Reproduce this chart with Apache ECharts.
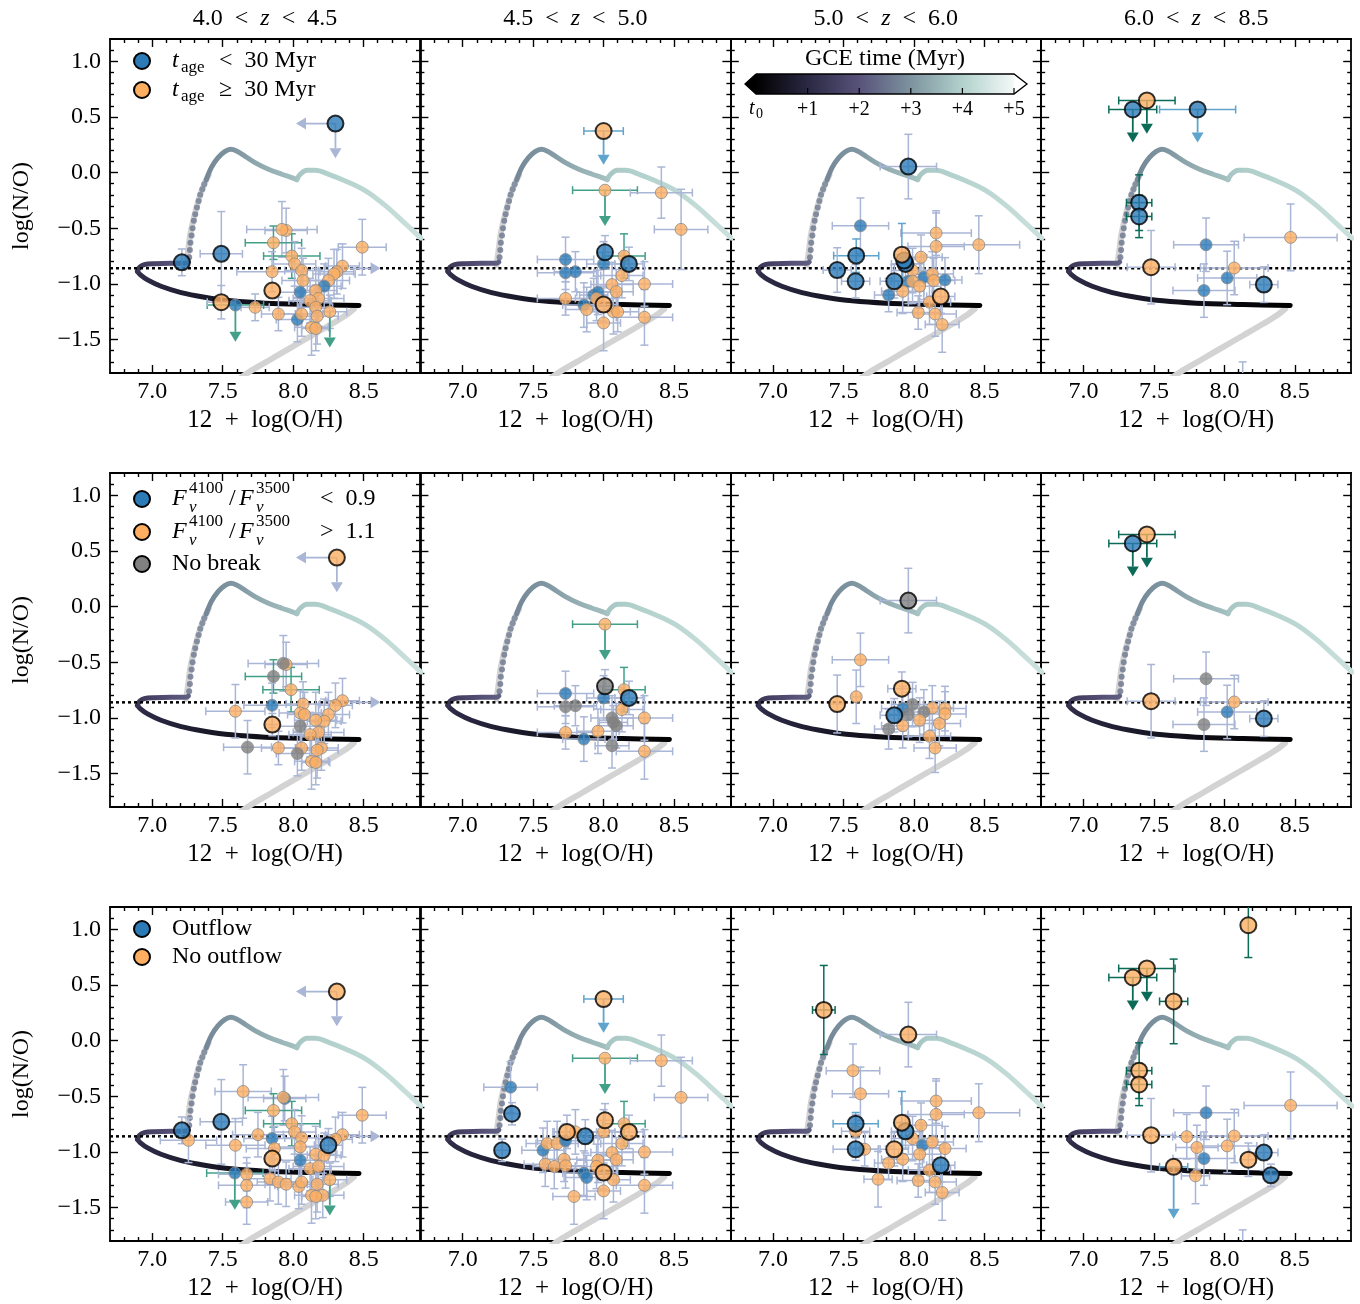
<!DOCTYPE html>
<html>
<head>
<meta charset="utf-8">
<title>N/O versus O/H by redshift bin</title>
<script src="https://cdn.jsdelivr.net/npm/echarts@6.0.0/dist/echarts.min.js"></script>
<style>
  html, body { margin: 0; padding: 0; background: #fff; }
  #chart { width: 1360px; height: 1304px; }
</style>
</head>
<body>
<div id="chart"></div>
<script>
// axis ranges and ticks
const X_MIN = 6.7, X_MAX = 8.9, Y_MIN = -1.8, Y_MAX = 1.2;
const X_MAJOR = [7.0, 7.5, 8.0, 8.5];
const Y_MAJOR = [-1.5, -1.0, -0.5, 0.0, 0.5, 1.0];
const SOLAR_NO = -0.86;

const COL_TITLES = [["4.0", "4.5"], ["4.5", "5.0"], ["5.0", "6.0"], ["6.0", "8.5"]];
const CBAR_LABELS = ["+1", "+2", "+3", "+4", "+5"];

// GCE track: [12+log(O/H), log(N/O), time in Myr after t0]
const TRACK_BOTTOM = [
  [8.467, -1.194, 0.0], [8.133, -1.185, 0.15], [7.800, -1.173, 0.35], [7.562, -1.152, 0.5],
  [7.371, -1.119, 0.65], [7.205, -1.078, 0.8], [7.062, -1.021, 0.95], [6.967, -0.964, 1.05],
  [6.914, -0.916, 1.15], [6.895, -0.887, 1.2]
];
const TRACK_TURN = [
  [6.895, -0.887, 1.2], [6.910, -0.851, 1.3], [6.943, -0.827, 1.45], [7.014, -0.818, 1.65],
  [7.133, -0.815, 1.95], [7.240, -0.815, 2.2], [7.257, -0.803, 2.3]
];
const TRACK_DOTS = [
  [7.262, -0.761, 2.5], [7.267, -0.696, 2.52], [7.271, -0.630, 2.54], [7.279, -0.564, 2.56],
  [7.286, -0.499, 2.58], [7.295, -0.433, 2.6], [7.305, -0.373, 2.62], [7.317, -0.313, 2.64],
  [7.329, -0.254, 2.66], [7.340, -0.200, 2.69], [7.355, -0.149, 2.72], [7.369, -0.104, 2.75]
];
const TRACK_PEAK = [
  [7.383, -0.066, 2.8], [7.419, 0.045, 2.85], [7.467, 0.134, 2.9], [7.514, 0.188, 2.95],
  [7.557, 0.209, 3.0], [7.598, 0.194, 3.05], [7.657, 0.149, 3.15], [7.729, 0.090, 3.3],
  [7.824, 0.030, 3.45], [7.919, -0.015, 3.6], [7.990, -0.045, 3.7], [8.026, -0.063, 3.75]
];
const TRACK_TAIL = [
  [8.026, -0.063, 3.75], [8.050, -0.015, 3.8], [8.098, 0.021, 3.87], [8.157, 0.021, 3.93],
  [8.252, -0.015, 4.0], [8.371, -0.075, 4.08], [8.514, -0.164, 4.16], [8.657, -0.299, 4.24],
  [8.800, -0.463, 4.32], [8.907, -0.588, 4.4]
];
const GRAY_LOWER = [
  [7.62, -1.85], [7.705, -1.776], [7.848, -1.672], [7.99, -1.567], [8.133, -1.463],
  [8.276, -1.358], [8.371, -1.284], [8.431, -1.224]
];
const GRAY_UNDER = [
  [7.24, -0.83], [7.255, -0.70], [7.27, -0.55], [7.30, -0.38], [7.335, -0.22], [7.37, -0.10], [7.40, -0.02]
];

// galaxies: [x, y, xerr, yerr, class, error style]
// class: b = blue group, o = orange group, n = no break; error style: g / dg / lb (default steel)
const r1c1Small = [
  [7.95, -0.52, 0.15, 0.20, "o"], [7.92, -0.51, 0.25, 0.25, "o"], [7.86, -0.63, 0.20, 0.15, "o", "g"],
  [8.49, -0.67, 0.17, 0.25, "o"], [7.99, -0.75, 0.20, 0.20, "o", "g"], [8.01, -0.82, 0.15, 0.20, "o"],
  [8.06, -0.88, 0.12, 0.20, "o"], [7.85, -0.89, 0.25, 0.18, "o"], [8.07, -0.97, 0.15, 0.20, "o"],
  [8.35, -0.84, 0.12, 0.20, "o"], [8.31, -0.89, 0.12, 0.20, "o"], [8.29, -0.91, 0.15, 0.22, "o"],
  [8.25, -0.97, 0.15, 0.20, "o"], [8.05, -1.075, 0.15, 0.20, "b"], [8.22, -1.02, 0.12, 0.20, "b"],
  [8.16, -1.06, 0.15, 0.20, "o"], [8.18, -1.13, 0.18, 0.25, "o"], [8.12, -1.15, 0.15, 0.20, "o"],
  [8.16, -1.21, 0.12, 0.20, "o"], [8.26, -1.25, 0.12, 0.15, "o"], [8.03, -1.32, 0.15, 0.20, "b"],
  [8.06, -1.27, 0.15, 0.20, "o"], [8.17, -1.29, 0.15, 0.25, "o"], [8.13, -1.39, 0.12, 0.25, "o"],
  [8.16, -1.40, 0.10, 0.20, "o"], [7.895, -1.27, 0.12, 0.15, "o"], [7.73, -1.21, 0.10, 0.12, "o"],
  [7.59, -1.19, 0.20, 0, "b", "g"]
];
const r1c1Big = [
  [7.21, -0.806, 0, 0.12, "b"], [7.49, -0.73, 0.15, 0.38, "b"], [7.49, -1.164, 0.10, 0.15, "o"],
  [7.852, -1.06, 0, 0, "o"], [8.30, 0.44, 0, 0, "b"]
];
const r1c1Lim = [
  [8.30, 0.44, 8.02, 0.44, "s"], [8.30, 0.44, 8.30, 0.13, "s"], [7.59, -1.19, 7.59, -1.52, "g"],
  [8.26, -1.25, 8.26, -1.57, "g"], [8.40, -0.86, 8.62, -0.86, "s"]
];

const r1c2Small = [
  [8.01, -0.158, 0.23, 0, "o", "g"], [8.41, -0.18, 0.22, 0.23, "o"], [8.55, -0.51, 0.19, 0.36, "o"],
  [7.73, -0.78, 0.20, 0.20, "b"], [7.73, -0.90, 0.20, 0.15, "b"], [7.80, -0.89, 0.15, 0.18, "b"],
  [8.145, -0.75, 0.15, 0.20, "o", "g"], [8.00, -0.82, 0.12, 0.20, "b"], [8.13, -0.925, 0.15, 0.20, "o"],
  [8.06, -1.006, 0.15, 0.20, "o"], [8.29, -1.00, 0.20, 0.20, "o"], [7.93, -1.10, 0.10, 0.15, "b"],
  [7.96, -1.075, 0.15, 0.20, "b"], [8.09, -1.07, 0.12, 0.20, "o"], [7.73, -1.13, 0.20, 0.15, "o"],
  [7.95, -1.13, 0.15, 0.20, "o"], [7.86, -1.19, 0.15, 0.20, "b"], [7.88, -1.23, 0.15, 0.20, "o"],
  [8.07, -1.25, 0.12, 0.20, "o"], [8.10, -1.25, 0.15, 0.18, "o"], [8.00, -1.35, 0.12, 0.25, "o"],
  [8.29, -1.30, 0.20, 0.25, "o"]
];
const r1c2Big = [
  [8.00, 0.373, 0.14, 0, "o", "lb"], [8.01, -0.716, 0.05, 0.15, "b"], [8.18, -0.82, 0.10, 0.15, "b"],
  [8.00, -1.185, 0.10, 0.15, "o"]
];
const r1c2Lim = [[8.00, 0.373, 8.00, 0.07, "lb"], [8.01, -0.158, 8.01, -0.48, "g"]];

const r1c3Small = [
  [7.62, -0.478, 0.20, 0.25, "b"], [8.157, -0.543, 0.25, 0.20, "o"], [8.157, -0.663, 0.20, 0.30, "o"],
  [8.46, -0.648, 0.29, 0.26, "o"], [8.05, -0.76, 0.15, 0.20, "o"], [7.99, -0.88, 0.15, 0.20, "o"],
  [8.07, -0.94, 0.15, 0.20, "b"], [8.13, -0.91, 0.15, 0.20, "o"], [8.14, -0.97, 0.15, 0.20, "o"],
  [8.22, -0.964, 0.12, 0.20, "b"], [7.96, -0.976, 0.12, 0.20, "b"], [7.99, -0.976, 0.15, 0.20, "o"],
  [8.04, -1.02, 0.15, 0.20, "o"], [7.92, -1.066, 0.15, 0.20, "o"], [7.82, -1.10, 0.10, 0.15, "b"],
  [8.11, -1.164, 0.15, 0.20, "o"], [8.15, -1.27, 0.15, 0.20, "o"], [8.03, -1.257, 0.15, 0.15, "o"],
  [8.20, -1.364, 0.12, 0.25, "o"]
];
const r1c3Big = [
  [7.96, 0.054, 0.20, 0.29, "b"], [7.59, -0.746, 0.16, 0.15, "b", "lb"], [7.455, -0.875, 0.10, 0.20, "b"],
  [7.586, -0.976, 0.10, 0.15, "b"], [7.86, -0.976, 0.10, 0.15, "b"], [7.94, -0.82, 0.10, 0.15, "b"],
  [7.93, -0.79, 0, 0, "b"], [7.914, -0.737, 0.05, 0.28, "o", "lb"], [8.19, -1.113, 0.10, 0.15, "o"]
];
const r1c3Lim = [];

const r1c4Small = [
  [7.87, -0.648, 0.23, 0.24, "b"], [8.47, -0.582, 0.33, 0.30, "o"], [8.07, -0.857, 0.24, 0.24, "o"],
  [8.02, -0.946, 0.21, 0.24, "b"], [7.855, -1.06, 0.22, 0.24, "b"], [8.13, -2.05, 0, 0.35, "o"]
];
const r1c4Big = [
  [7.35, 0.567, 0.17, 0, "b", "dg"], [7.45, 0.648, 0.20, 0, "o", "dg"], [7.81, 0.567, 0.27, 0, "b", "lb"],
  [7.395, -0.27, 0.09, 0.25, "b", "dg"], [7.395, -0.394, 0.09, 0.19, "b", "dg"],
  [7.48, -0.85, 0.17, 0.33, "o"], [8.28, -1.006, 0.10, 0.16, "b"]
];
const r1c4Lim = [[7.35, 0.567, 7.35, 0.27, "dg"], [7.45, 0.648, 7.45, 0.35, "dg"], [7.81, 0.567, 7.81, 0.27, "lb"]];

const r2c1Small = [
  [7.95, -0.52, 0.15, 0.20, "o"], [7.93, -0.51, 0.25, 0.25, "n"], [7.86, -0.627, 0.20, 0.15, "n", "g"],
  [7.985, -0.746, 0.20, 0.20, "o", "g"], [7.85, -0.887, 0.20, 0.20, "b"], [7.59, -0.94, 0.21, 0.24, "o"],
  [8.07, -0.875, 0.12, 0.20, "o"], [8.05, -0.955, 0.15, 0.20, "o"], [8.08, -0.97, 0.12, 0.20, "o"],
  [8.35, -0.845, 0.12, 0.20, "o"], [8.30, -0.887, 0.12, 0.20, "o"], [8.25, -0.97, 0.15, 0.20, "o"],
  [8.22, -1.03, 0.12, 0.20, "o"], [8.16, -1.02, 0.15, 0.25, "o"], [8.05, -1.075, 0.15, 0.20, "n"],
  [8.18, -1.13, 0.18, 0.25, "o"], [8.12, -1.15, 0.15, 0.20, "o"], [7.676, -1.263, 0.17, 0.24, "n"],
  [7.895, -1.27, 0.12, 0.15, "o"], [8.06, -1.27, 0.15, 0.20, "o"], [8.20, -1.27, 0.12, 0.20, "o"],
  [8.17, -1.29, 0.15, 0.25, "o"], [8.03, -1.32, 0.15, 0.20, "n"], [8.13, -1.39, 0.12, 0.25, "o"],
  [8.16, -1.40, 0.10, 0.20, "o"]
];
const r2c1Big = [[8.31, 0.44, 0, 0, "o"], [7.852, -1.06, 0.05, 0.10, "o"]];
const r2c1Lim = [[8.31, 0.44, 8.02, 0.44, "s"], [8.31, 0.44, 8.31, 0.13, "s"], [8.40, -0.86, 8.62, -0.86, "s"]];

const r2c2Small = [
  [8.01, -0.158, 0.23, 0, "o", "g"], [8.145, -0.746, 0.15, 0.20, "o", "g"], [8.00, -0.82, 0.12, 0.20, "b"],
  [7.73, -0.78, 0.20, 0.20, "b"], [7.73, -0.90, 0.20, 0.15, "n"], [7.80, -0.89, 0.15, 0.18, "n"],
  [8.13, -0.925, 0.15, 0.20, "o"], [8.29, -1.00, 0.20, 0.20, "o"], [8.06, -1.00, 0.15, 0.20, "n"],
  [8.07, -1.04, 0.10, 0.15, "n"], [8.09, -1.07, 0.12, 0.20, "n"], [7.73, -1.13, 0.20, 0.15, "o"],
  [7.96, -1.12, 0.15, 0.20, "o"], [7.86, -1.19, 0.15, 0.20, "b"], [8.06, -1.25, 0.12, 0.20, "n"],
  [8.29, -1.30, 0.20, 0.25, "o"]
];
const r2c2Big = [[8.01, -0.716, 0.05, 0.15, "n"], [8.18, -0.82, 0.10, 0.15, "b"]];
const r2c2Lim = [[8.01, -0.158, 8.01, -0.48, "g"]];

const r2c3Small = [
  [7.62, -0.478, 0.20, 0.24, "o"], [7.59, -0.81, 0.03, 0.24, "o"], [7.99, -0.88, 0.15, 0.20, "n"],
  [7.92, -0.916, 0.15, 0.20, "b"], [8.13, -0.91, 0.15, 0.20, "o"], [8.22, -0.916, 0.15, 0.20, "o"],
  [8.22, -0.964, 0.15, 0.20, "o"], [8.07, -0.946, 0.15, 0.20, "n"], [7.96, -0.97, 0.15, 0.20, "n"],
  [8.04, -1.02, 0.15, 0.20, "o"], [8.18, -1.05, 0.15, 0.20, "o"], [7.92, -1.07, 0.15, 0.20, "o"],
  [7.82, -1.10, 0.10, 0.18, "n"], [8.11, -1.164, 0.15, 0.20, "o"], [8.15, -1.27, 0.15, 0.22, "o"]
];
const r2c3Big = [
  [7.96, 0.054, 0.20, 0.29, "n"], [7.914, -0.737, 0.10, 0.15, "o"], [7.455, -0.875, 0.05, 0.26, "o"],
  [7.86, -0.976, 0.10, 0.15, "b"]
];
const r2c3Lim = [];

const r2c4Small = [
  [7.87, -0.648, 0.23, 0.24, "n"], [8.07, -0.857, 0.24, 0.24, "o"], [8.02, -0.946, 0.21, 0.24, "b"],
  [7.855, -1.06, 0.22, 0.24, "n"]
];
const r2c4Big = [
  [7.35, 0.567, 0.17, 0, "b", "dg"], [7.45, 0.648, 0.20, 0, "o", "dg"], [7.48, -0.85, 0.17, 0.33, "o"],
  [8.28, -1.006, 0.10, 0.16, "b"]
];
const r2c4Lim = [[7.35, 0.567, 7.35, 0.27, "dg"], [7.45, 0.648, 7.45, 0.35, "dg"]];

const r3c1Small = [
  [7.257, -0.896, 0.20, 0.20, "o"], [7.645, -0.457, 0.20, 0.24, "o"], [7.94, -0.52, 0.15, 0.20, "b"],
  [7.93, -0.51, 0.25, 0.25, "o"], [7.86, -0.627, 0.20, 0.15, "o", "g"], [7.99, -0.746, 0.20, 0.20, "o", "g"],
  [8.49, -0.67, 0.17, 0.25, "o"], [7.75, -0.845, 0.18, 0.20, "o"], [7.85, -0.88, 0.20, 0.20, "b"],
  [7.59, -0.94, 0.21, 0.24, "o"], [8.01, -0.82, 0.15, 0.20, "o"], [8.06, -0.875, 0.12, 0.20, "o"],
  [8.05, -0.955, 0.15, 0.20, "o"], [7.867, -0.97, 0.20, 0.20, "o"], [8.35, -0.845, 0.12, 0.20, "o"],
  [8.30, -0.887, 0.12, 0.20, "o"], [8.16, -1.02, 0.15, 0.25, "o"], [8.22, -1.03, 0.12, 0.20, "o"],
  [8.05, -1.075, 0.15, 0.20, "b"], [8.12, -1.15, 0.15, 0.20, "o"], [8.18, -1.13, 0.18, 0.25, "o"],
  [7.586, -1.19, 0.20, 0, "b", "g"], [7.67, -1.20, 0.20, 0.15, "o"], [7.67, -1.30, 0.20, 0.20, "o"],
  [7.67, -1.45, 0.15, 0.20, "o"], [7.835, -1.24, 0.15, 0.20, "o"], [7.895, -1.27, 0.15, 0.20, "o"],
  [7.95, -1.29, 0.15, 0.20, "o"], [8.04, -1.31, 0.15, 0.20, "o"], [8.06, -1.27, 0.15, 0.20, "o"],
  [8.26, -1.25, 0.12, 0.15, "o"], [8.17, -1.29, 0.15, 0.25, "o"], [8.13, -1.39, 0.12, 0.25, "o"],
  [8.21, -1.39, 0.15, 0.20, "o"], [8.16, -1.40, 0.10, 0.20, "o"]
];
const r3c1Big = [
  [7.21, -0.806, 0, 0.12, "b"], [7.49, -0.73, 0.15, 0.38, "b"], [7.852, -1.06, 0.05, 0.10, "o"],
  [8.25, -0.94, 0.10, 0.15, "b"], [8.31, 0.44, 0, 0, "o"]
];
const r3c1Lim = [
  [8.31, 0.44, 8.02, 0.44, "s"], [8.31, 0.44, 8.31, 0.13, "s"], [7.586, -1.19, 7.586, -1.52, "g"],
  [8.26, -1.25, 8.26, -1.57, "g"], [8.40, -0.86, 8.62, -0.86, "s"]
];

const r3c2Small = [
  [7.34, -0.418, 0.19, 0.23, "b"], [8.01, -0.158, 0.23, 0, "o", "g"], [8.41, -0.18, 0.22, 0.23, "o"],
  [8.55, -0.51, 0.19, 0.36, "o"], [7.80, -0.82, 0.15, 0.20, "o"], [8.145, -0.746, 0.15, 0.20, "o", "g"],
  [8.00, -0.82, 0.12, 0.20, "o"], [7.57, -0.985, 0.15, 0.20, "b"], [7.60, -0.925, 0.15, 0.20, "o"],
  [7.67, -0.925, 0.15, 0.20, "o"], [7.73, -0.90, 0.20, 0.15, "b"], [8.13, -0.925, 0.15, 0.20, "o"],
  [8.06, -1.006, 0.15, 0.20, "o"], [8.29, -1.00, 0.20, 0.20, "o"], [7.72, -1.066, 0.15, 0.20, "o"],
  [8.09, -1.07, 0.12, 0.20, "o"], [7.96, -1.075, 0.15, 0.20, "o"], [7.586, -1.11, 0.15, 0.20, "o"],
  [7.65, -1.13, 0.15, 0.20, "o"], [7.73, -1.125, 0.15, 0.20, "o"], [7.95, -1.13, 0.15, 0.20, "o"],
  [7.86, -1.19, 0.15, 0.20, "b"], [7.88, -1.23, 0.15, 0.20, "b"], [8.07, -1.25, 0.12, 0.20, "o"],
  [8.00, -1.35, 0.12, 0.25, "o"], [8.29, -1.30, 0.20, 0.25, "o"], [7.79, -1.40, 0.15, 0.25, "o"]
];
const r3c2Big = [
  [8.00, 0.373, 0.14, 0, "o", "lb"], [7.35, -0.657, 0.05, 0.10, "b"], [7.28, -0.985, 0.05, 0.10, "b"],
  [7.74, -0.82, 0.10, 0.15, "o"], [7.87, -0.86, 0.10, 0.15, "b"], [8.01, -0.716, 0.05, 0.15, "o"],
  [8.18, -0.82, 0.10, 0.15, "o"], [8.00, -1.185, 0.10, 0.15, "o"]
];
const r3c2Lim = [[8.00, 0.373, 8.00, 0.07, "lb"], [8.01, -0.158, 8.01, -0.48, "g"]];

const r3c3Small = [
  [7.567, -0.27, 0.19, 0.24, "o"], [7.62, -0.478, 0.20, 0.24, "o"], [8.157, -0.543, 0.25, 0.20, "o"],
  [8.157, -0.663, 0.20, 0.30, "o"], [8.46, -0.648, 0.29, 0.26, "o"], [8.05, -0.76, 0.15, 0.20, "o"],
  [7.586, -0.815, 0.10, 0.15, "o"], [7.99, -0.88, 0.15, 0.20, "o"], [8.06, -0.94, 0.15, 0.20, "b"],
  [8.13, -0.91, 0.15, 0.20, "o"], [8.22, -0.97, 0.15, 0.20, "o"], [7.65, -0.976, 0.10, 0.15, "o"],
  [8.04, -1.02, 0.15, 0.20, "o"], [7.92, -1.066, 0.15, 0.20, "o"], [7.82, -1.10, 0.10, 0.15, "o"],
  [8.11, -1.164, 0.15, 0.20, "o"], [7.745, -1.245, 0.10, 0.25, "o"], [8.15, -1.27, 0.15, 0.20, "o"],
  [8.03, -1.257, 0.15, 0.15, "o"], [8.20, -1.364, 0.12, 0.25, "o"]
];
const r3c3Big = [
  [7.36, 0.275, 0.08, 0.40, "o", "dg"], [7.96, 0.054, 0.20, 0.29, "o"], [7.586, -0.746, 0.16, 0.10, "b", "lb"],
  [7.586, -0.976, 0.16, 0.10, "b"], [7.94, -0.815, 0.10, 0.15, "b"], [7.914, -0.737, 0.05, 0.28, "o", "lb"],
  [7.86, -0.976, 0.10, 0.15, "o"], [8.19, -1.12, 0.10, 0.15, "b"]
];
const r3c3Lim = [];

const r3c4Small = [
  [7.87, -0.648, 0.23, 0.24, "b"], [8.47, -0.582, 0.33, 0.30, "o"], [7.733, -0.863, 0.10, 0.20, "o"],
  [8.07, -0.857, 0.24, 0.24, "o"], [7.805, -0.96, 0.15, 0.20, "o"], [8.02, -0.946, 0.21, 0.24, "o"],
  [7.855, -1.06, 0.22, 0.24, "b"], [7.795, -1.215, 0.10, 0.25, "o"], [8.13, -2.05, 0, 0.35, "o"]
];
const r3c4Big = [
  [8.17, 1.036, 0, 0.29, "o", "dg"], [7.35, 0.567, 0.17, 0, "o", "dg"], [7.45, 0.648, 0.20, 0, "o", "dg"],
  [7.64, 0.352, 0.10, 0.38, "o", "dg"], [7.395, -0.27, 0.09, 0.25, "o", "dg"],
  [7.395, -0.394, 0.09, 0.19, "o", "dg"], [7.48, -0.85, 0.17, 0.33, "o"], [7.64, -1.134, 0.10, 0, "o", "lb"],
  [8.17, -1.07, 0.05, 0.15, "o"], [8.28, -1.006, 0.10, 0.16, "b"], [8.33, -1.21, 0.05, 0.10, "b"]
];
const r3c4Lim = [[7.35, 0.567, 7.35, 0.27, "dg"], [7.45, 0.648, 7.45, 0.35, "dg"], [7.64, -1.134, 7.64, -1.60, "lb"]];

const PANELS = [
  [r1c1Small, r1c1Big, r1c1Lim], [r1c2Small, r1c2Big, r1c2Lim], [r1c3Small, r1c3Big, r1c3Lim], [r1c4Small, r1c4Big, r1c4Lim],
  [r2c1Small, r2c1Big, r2c1Lim], [r2c2Small, r2c2Big, r2c2Lim], [r2c3Small, r2c3Big, r2c3Lim], [r2c4Small, r2c4Big, r2c4Lim],
  [r3c1Small, r3c1Big, r3c1Lim], [r3c2Small, r3c2Big, r3c2Lim], [r3c3Small, r3c3Big, r3c3Lim], [r3c4Small, r3c4Big, r3c4Lim]
];

// styling
const FONT = "'Liberation Serif', 'DejaVu Serif', serif";
const COLORS = { b: "#2c7bb6", o: "#fdae61", n: "#808080" };
const ERR_COLORS = { s: "#aab6d6", g: "#42a088", dg: "#0c6b57", lb: "#5fa4cc" };
const CMAP = ["#000000", "#2a2842", "#58527a", "#7d939f", "#b2d1cc", "#f3f9f7"];
const GRID_LEFT = 110, GRID_TOP = 39, GRID_W = 310, GRID_H = 334, COL_STEP = 310.4, ROW_STEP = 434;

function hexToRgb(h) {
  return [1, 3, 5].map((i) => parseInt(h.slice(i, i + 2), 16));
}

function cmapAt(t) {
  const s = Math.max(0, Math.min(5, t));
  const i = Math.min(4, Math.floor(s));
  const f = s - i;
  const a = hexToRgb(CMAP[i]);
  const b = hexToRgb(CMAP[i + 1]);
  const c = a.map((v, k) => Math.round(v + (b[k] - v) * f));
  return `rgb(${c.join(",")})`;
}

function gradientFor(seg) {
  const xs = seg.map((q) => q[0]);
  const lo = Math.min(...xs), hi = Math.max(...xs);
  const stops = seg
    .map((q) => ({ offset: (q[0] - lo) / (hi - lo), color: cmapAt(q[2]) }))
    .sort((a, b) => a.offset - b.offset);
  return { type: "linear", x: 0, y: 0, x2: 1, y2: 0, colorStops: stops };
}

function minorTicks(lo, hi, majors) {
  const out = [];
  for (let k = Math.round(lo * 10) + 1; k < Math.round(hi * 10); k++) {
    const v = k / 10;
    if (!majors.some((m) => Math.abs(m - v) < 1e-6)) out.push(v);
  }
  return out;
}
const X_MINOR = minorTicks(X_MIN, X_MAX, X_MAJOR);
const Y_MINOR = minorTicks(Y_MIN, Y_MAX, Y_MAJOR);

function fmt(v) {
  return (v < 0 ? "\u2212" : "") + Math.abs(v).toFixed(1);
}

const grids = [], xAxes = [], yAxes = [], series = [], graphics = [];

function axisDef(kind, gi, pos, ticks, len, labels, line, name) {
  const isX = kind === "x";
  const def = {
    type: "value", gridIndex: gi, position: pos,
    min: isX ? X_MIN : Y_MIN, max: isX ? X_MAX : Y_MAX,
    axisLine: { show: line, onZero: false, lineStyle: { color: "#000", width: 1.8 } },
    axisTick: { show: true, inside: true, length: len, customValues: ticks, lineStyle: { color: "#000", width: 1.4 } },
    axisLabel: {
      show: labels, customValues: ticks, margin: isX ? 7 : 9, color: "#000",
      fontFamily: FONT, fontSize: 24, formatter: fmt
    },
    splitLine: { show: false }
  };
  if (name) {
    def.name = name;
    def.nameLocation = "middle";
    def.nameTextStyle = { fontFamily: FONT, fontSize: isX ? 25 : 24, color: "#000" };
    def.nameGap = isX ? 35 : 76;
  }
  return def;
}

function errRender(list) {
  return function (params, api) {
    const d = list[params.dataIndex];
    const color = ERR_COLORS[d[5] || "s"];
    const style = { stroke: color, lineWidth: 1.5, fill: null };
    const kids = [];
    const seg = (x1, y1, x2, y2) => kids.push({ type: "line", shape: { x1, y1, x2, y2 }, style });
    if (d[2] > 0) {
      const a = api.coord([d[0] - d[2], d[1]]), b = api.coord([d[0] + d[2], d[1]]);
      seg(a[0], a[1], b[0], b[1]);
      seg(a[0], a[1] - 4, a[0], a[1] + 4);
      seg(b[0], b[1] - 4, b[0], b[1] + 4);
    }
    if (d[3] > 0) {
      const a = api.coord([d[0], d[1] - d[3]]), b = api.coord([d[0], d[1] + d[3]]);
      seg(a[0], a[1], b[0], b[1]);
      seg(a[0] - 4, a[1], a[0] + 4, a[1]);
      seg(b[0] - 4, b[1], b[0] + 4, b[1]);
    }
    return { type: "group", children: kids };
  };
}

function arrowRender(list) {
  return function (params, api) {
    const d = list[params.dataIndex];
    const color = ERR_COLORS[d[4] || "s"];
    const p0 = api.coord([d[0], d[1]]), p1 = api.coord([d[2], d[3]]);
    const dx = p1[0] - p0[0], dy = p1[1] - p0[1];
    const L = Math.hypot(dx, dy) || 1;
    const ux = dx / L, uy = dy / L;
    const head = 10, hw = 6;
    const bx = p1[0] - ux * head, by = p1[1] - uy * head;
    return {
      type: "group",
      children: [
        { type: "line", shape: { x1: p0[0], y1: p0[1], x2: bx, y2: by }, style: { stroke: color, lineWidth: 1.8 } },
        {
          type: "polygon",
          shape: { points: [[p1[0], p1[1]], [bx - uy * hw, by + ux * hw], [bx + uy * hw, by - ux * hw]] },
          style: { fill: color }
        }
      ]
    };
  };
}

function pointItems(list, big) {
  return list.map((d) => ({
    value: [d[0], d[1]],
    itemStyle: {
      color: COLORS[d[4]],
      borderColor: big ? "#000" : "#8a8a8a",
      borderWidth: big ? 2 : 1
    }
  }));
}

PANELS.forEach((panel, gi) => {
  const r = Math.floor(gi / 4), c = gi % 4;
  grids.push({ left: GRID_LEFT + COL_STEP * c, top: GRID_TOP + ROW_STEP * r, width: GRID_W, height: GRID_H });

  const xi = xAxes.length, yi = yAxes.length;
  xAxes.push(axisDef("x", gi, "bottom", X_MAJOR, 8, true, true, "12  +  log(O/H)"));
  xAxes.push(axisDef("x", gi, "bottom", X_MINOR, 4, false, false));
  xAxes.push(axisDef("x", gi, "top", X_MAJOR, 8, false, true));
  xAxes.push(axisDef("x", gi, "top", X_MINOR, 4, false, false));
  yAxes.push(axisDef("y", gi, "left", Y_MAJOR, 8, c === 0, true, c === 0 ? "log(N/O)" : null));
  yAxes.push(axisDef("y", gi, "left", Y_MINOR, 4, false, false));
  yAxes.push(axisDef("y", gi, "right", Y_MAJOR, 8, false, true));
  yAxes.push(axisDef("y", gi, "right", Y_MINOR, 4, false, false));

  const base = { xAxisIndex: xi, yAxisIndex: yi, silent: true };

  [GRAY_LOWER, GRAY_UNDER].forEach((g) => {
    series.push(Object.assign({}, base, {
      type: "line", data: g, showSymbol: false, symbol: "none", smooth: 0.3, clip: true, z: 1,
      lineStyle: { color: "#d3d3d3", width: 6, cap: "round" }
    }));
  });
  [TRACK_BOTTOM, TRACK_TURN, TRACK_PEAK, TRACK_TAIL].forEach((seg) => {
    series.push(Object.assign({}, base, {
      type: "line", data: seg.map((q) => [q[0], q[1]]), showSymbol: false, symbol: "none",
      smooth: 0.35, clip: true, z: 2,
      lineStyle: { width: 5, cap: "round", join: "round", color: gradientFor(seg) }
    }));
  });
  series.push(Object.assign({}, base, {
    type: "scatter", symbolSize: 6, z: 2,
    data: TRACK_DOTS.map((q) => ({ value: [q[0], q[1]], itemStyle: { color: cmapAt(q[2]) } }))
  }));
  series.push(Object.assign({}, base, {
    type: "line", data: [[X_MIN, SOLAR_NO], [X_MAX, SOLAR_NO]], showSymbol: false, symbol: "none", z: 3,
    lineStyle: { color: "#000", width: 2.5, type: [3, 3] }
  }));

  const [small, big, lim] = panel;
  const all = small.concat(big);
  series.push(Object.assign({}, base, {
    type: "custom", renderItem: errRender(all), data: all.map((d) => [d[0], d[1]]),
    encode: { x: 0, y: 1 }, clip: true, z: 4
  }));
  series.push(Object.assign({}, base, {
    type: "custom", renderItem: arrowRender(lim), data: lim.map((d) => [d[0], d[1]]),
    encode: { x: 0, y: 1 }, clip: true, z: 4
  }));
  series.push(Object.assign({}, base, { type: "scatter", symbolSize: 12, z: 5, data: pointItems(small, false) }));
  series.push(Object.assign({}, base, { type: "scatter", symbolSize: 16, z: 6, data: pointItems(big, true) }));
});

// text helpers
function txt(x, y, text, size, extra) {
  const st = Object.assign({
    x, y, text, fill: "#000", fontFamily: FONT, fontSize: size,
    align: "left", verticalAlign: "middle", textAlign: "left", textVerticalAlign: "middle"
  }, extra || {});
  if (extra && extra.align) st.textAlign = extra.align;
  graphics.push({ type: "text", silent: true, z: 100, style: st });
}
function dot(x, y, color) {
  graphics.push({
    type: "circle", silent: true, z: 100, shape: { cx: x, cy: y, r: 8 },
    style: { fill: color, stroke: "#000", lineWidth: 2 }
  });
}

// column titles
COL_TITLES.forEach((t, c) => {
  const cx = GRID_LEFT + COL_STEP * c + GRID_W / 2;
  graphics.push({
    type: "text", silent: true, z: 100,
    style: {
      x: cx, y: 19, align: "center", verticalAlign: "middle", textAlign: "center", textVerticalAlign: "middle",
      text: `{a|${t[0]}  <  }{b|z}{a|  <  ${t[1]}}`,
      rich: {
        a: { fontFamily: FONT, fontSize: 24, fill: "#000" },
        b: { fontFamily: FONT, fontSize: 24, fontStyle: "italic", fill: "#000" }
      }
    }
  });
});

// legend, row 1
dot(142, 61, COLORS.b);
txt(172, 61, "t", 24, { fontStyle: "italic" });
txt(181, 68, "age", 17);
txt(219, 61, "<  30 Myr", 24);
dot(142, 90, COLORS.o);
txt(172, 90, "t", 24, { fontStyle: "italic" });
txt(181, 97, "age", 17);
txt(219, 90, "\u2265  30 Myr", 24);

// legend, row 2
[[499, "<  0.9", COLORS.b], [532, ">  1.1", COLORS.o]].forEach(([y, tail, col]) => {
  dot(142, y, col);
  txt(172, y, "F", 24, { fontStyle: "italic" });
  txt(189, y - 10, "4100", 17);
  txt(189, y + 9, "\u03bd", 17, { fontStyle: "italic" });
  txt(229, y, "/", 24);
  txt(239, y, "F", 24, { fontStyle: "italic" });
  txt(256, y - 10, "3500", 17);
  txt(256, y + 9, "\u03bd", 17, { fontStyle: "italic" });
  txt(320, y, tail, 24);
});
dot(142, 564, COLORS.n);
txt(172, 564, "No break", 24);

// legend, row 3
dot(142, 929, COLORS.b);
txt(172, 929, "Outflow", 24);
dot(142, 957, COLORS.o);
txt(172, 957, "No outflow", 24);

// colour bar for GCE time
const CB_X0 = 756, CB_X1 = 1014, CB_Y0 = 74, CB_Y1 = 94;
graphics.push({
  type: "rect", silent: true, z: 100,
  shape: { x: CB_X0, y: CB_Y0, width: CB_X1 - CB_X0, height: CB_Y1 - CB_Y0 },
  style: {
    fill: {
      type: "linear", x: 0, y: 0, x2: 1, y2: 0,
      colorStops: CMAP.map((col, i) => ({ offset: i / (CMAP.length - 1), color: col }))
    }
  }
});
graphics.push({
  type: "polygon", silent: true, z: 100,
  shape: { points: [[CB_X0, CB_Y0], [CB_X0 - 11, (CB_Y0 + CB_Y1) / 2], [CB_X0, CB_Y1]] },
  style: { fill: "#000" }
});
graphics.push({
  type: "polygon", silent: true, z: 100,
  shape: { points: [[CB_X1, CB_Y0], [CB_X1 + 13, (CB_Y0 + CB_Y1) / 2], [CB_X1, CB_Y1]] },
  style: { fill: "#fff" }
});
graphics.push({
  type: "polyline", silent: true, z: 101,
  shape: {
    points: [[CB_X0, CB_Y0], [CB_X1, CB_Y0], [CB_X1 + 13, (CB_Y0 + CB_Y1) / 2], [CB_X1, CB_Y1],
      [CB_X0, CB_Y1], [CB_X0 - 11, (CB_Y0 + CB_Y1) / 2], [CB_X0, CB_Y0]]
  },
  style: { stroke: "#000", lineWidth: 1.3, fill: null }
});
const CB_STEP = (CB_X1 - CB_X0) / CBAR_LABELS.length;
CBAR_LABELS.forEach((lab, i) => {
  const x = CB_X0 + CB_STEP * (i + 1);
  graphics.push({
    type: "line", silent: true, z: 101,
    shape: { x1: x, y1: CB_Y1 - 6, x2: x, y2: CB_Y1 },
    style: { stroke: "#000", lineWidth: 1.2 }
  });
  txt(x, 110, lab, 20, { align: "center" });
});
txt(749, 109, "t", 20, { fontStyle: "italic" });
txt(756, 114, "0", 14);
txt(885, 59, "GCE time (Myr)", 24, { align: "center" });

const chart = echarts.init(document.getElementById("chart"));
chart.setOption({
  animation: false,
  backgroundColor: "#fff",
  textStyle: { fontFamily: FONT },
  grid: grids,
  xAxis: xAxes,
  yAxis: yAxes,
  series: series,
  graphic: { elements: graphics }
});
</script>
</body>
</html>
